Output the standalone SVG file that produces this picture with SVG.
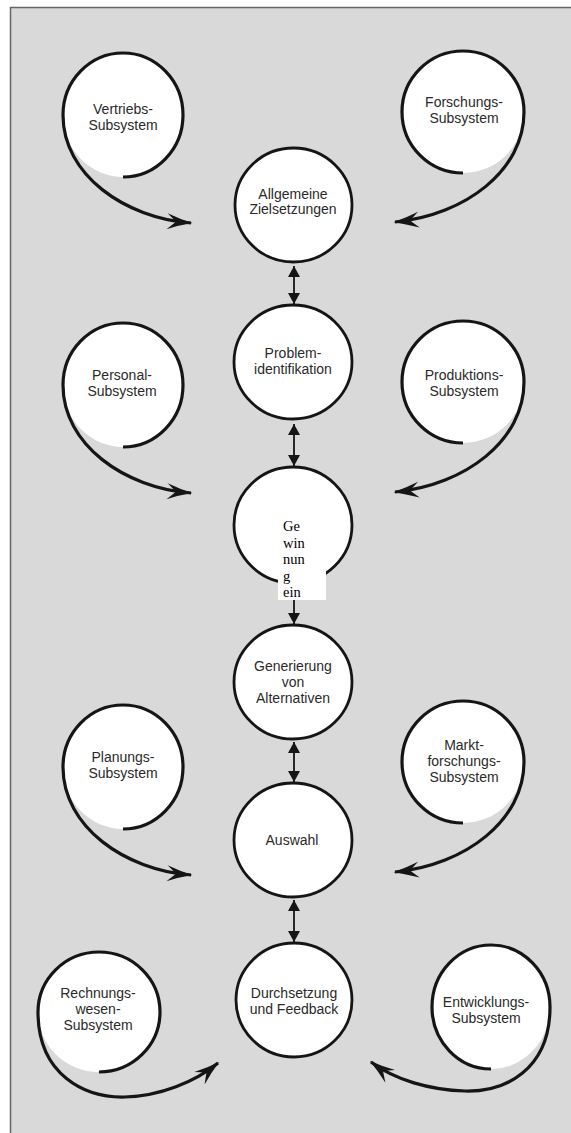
<svg xmlns="http://www.w3.org/2000/svg" width="571" height="1133" viewBox="0 0 571 1133">
<defs>
<style>
.bg{fill:#d9d9d9;stroke:#666;stroke-width:1.5}
.fill{fill:#fff;stroke:none}
.ring{fill:#fff;stroke:#151515;stroke-width:2.8}
.sp{fill:none;stroke:#151515;stroke-width:3.2}
.tail{fill:none;stroke:#151515;stroke-width:3.2}
.dbl{fill:none;stroke:#151515;stroke-width:1.8}
.t{font-family:"Liberation Sans",Arial,sans-serif;font-size:14px;fill:#2a2a2a;text-anchor:middle}
.s{font-family:"Liberation Serif","Times New Roman",serif;font-size:14.5px;fill:#000}
</style>
<marker id="barb" markerUnits="userSpaceOnUse" markerWidth="30" markerHeight="20" viewBox="-26 -10 28 20" refX="0" refY="0" orient="auto">
<path d="M1.5,0 Q-11,-3 -24,-8 L-15,0 L-24,8 Q-11,3 1.5,0 Z" fill="#151515"/>
</marker>
<marker id="tri" markerUnits="userSpaceOnUse" markerWidth="14" markerHeight="14" viewBox="0 -7 12 14" refX="11" refY="0" orient="auto-start-reverse">
<path d="M0,-6 L11,0 L0,6 Z" fill="#151515"/>
</marker>
</defs>
<rect class="bg" x="10.5" y="7.5" width="580" height="1140"/>

<g id="vertrieb">
<ellipse class="fill" cx="123" cy="115" rx="60" ry="62"/>
<path class="sp" d="M123,177 A60,62 0 1 0 63,115"/>
<text class="t" x="123" y="114">Vertriebs-</text>
<text class="t" x="123" y="130">Subsystem</text>
</g>
<g id="forschung">
<ellipse class="fill" cx="463" cy="112" rx="61" ry="61"/>
<path class="sp" d="M463,173 A61,61 0 1 1 524,112"/>
<text class="t" x="464" y="107">Forschungs-</text>
<text class="t" x="464" y="123">Subsystem</text>
</g>
<g id="personal">
<ellipse class="fill" cx="123" cy="385" rx="60" ry="62"/>
<path class="sp" d="M123,447 A60,62 0 1 0 63,385"/>
<text class="t" x="122" y="380">Personal-</text>
<text class="t" x="122" y="396">Subsystem</text>
</g>
<g id="produktion">
<ellipse class="fill" cx="463" cy="382" rx="61" ry="61"/>
<path class="sp" d="M463,443 A61,61 0 1 1 524,382"/>
<text class="t" x="464" y="380">Produktions-</text>
<text class="t" x="464" y="396">Subsystem</text>
</g>
<g id="planung">
<ellipse class="fill" cx="123" cy="767" rx="60" ry="62"/>
<path class="sp" d="M123,829 A60,62 0 1 0 63,767"/>
<text class="t" x="123" y="762">Planungs-</text>
<text class="t" x="123" y="778">Subsystem</text>
</g>
<g id="markt">
<ellipse class="fill" cx="463" cy="762" rx="61" ry="61"/>
<path class="sp" d="M463,823 A61,61 0 1 1 524,762"/>
<text class="t" x="464" y="750">Markt-</text>
<text class="t" x="464" y="766">forschungs-</text>
<text class="t" x="464" y="782">Subsystem</text>
</g>
<g id="rechnung">
<ellipse class="fill" cx="99" cy="1012" rx="61" ry="60"/>
<path class="sp" d="M99,1072 A61,60 0 1 0 38,1012"/>
<text class="t" x="98" y="998">Rechnungs-</text>
<text class="t" x="98" y="1014">wesen-</text>
<text class="t" x="98" y="1030">Subsystem</text>
</g>
<g id="entwicklung">
<ellipse class="fill" cx="491" cy="1007" rx="59" ry="62"/>
<path class="sp" d="M491,1069 A59,62 0 1 1 550,1007"/>
<text class="t" x="486" y="1007">Entwicklungs-</text>
<text class="t" x="486" y="1023">Subsystem</text>
</g>

<g id="ziele">
<ellipse class="ring" cx="293.5" cy="205" rx="58.5" ry="57"/>
<text class="t" x="293" y="199">Allgemeine</text>
<text class="t" x="293" y="214">Zielsetzungen</text>
</g>
<g id="problem">
<ellipse class="ring" cx="293" cy="362" rx="59" ry="57"/>
<text class="t" x="293" y="358">Problem-</text>
<text class="t" x="293" y="374">identifikation</text>
</g>
<g id="gewinnung">
<ellipse class="ring" cx="293" cy="525" rx="59" ry="58"/>
<rect x="278" y="513" width="48" height="87" fill="#fff"/>
<text class="s" x="283" y="531">Ge</text>
<text class="s" x="283" y="547.5">win</text>
<text class="s" x="283" y="564">nun</text>
<text class="s" x="283" y="580.5">g</text>
<text class="s" x="283" y="597">ein</text>
</g>
<g id="generierung">
<ellipse class="ring" cx="293" cy="682" rx="59" ry="57"/>
<text class="t" x="293" y="671">Generierung</text>
<text class="t" x="293" y="687">von</text>
<text class="t" x="293" y="703">Alternativen</text>
</g>
<g id="auswahl">
<ellipse class="ring" cx="293" cy="840" rx="59" ry="57"/>
<text class="t" x="292" y="845">Auswahl</text>
</g>
<g id="durchsetzung">
<ellipse class="ring" cx="294" cy="1000" rx="58" ry="57"/>
<text class="t" x="294" y="998">Durchsetzung</text>
<text class="t" x="294" y="1014">und Feedback</text>
</g>

<g id="connectors">
<path class="tail" marker-end="url(#barb)" d="M63,115 C63,175 125,218 191,223"/>
<path class="tail" marker-end="url(#barb)" d="M524,112 C524,170 466,215 395,222"/>
<path class="tail" marker-end="url(#barb)" d="M63,385 C63,445 125,488 191,493"/>
<path class="tail" marker-end="url(#barb)" d="M524,382 C524,440 466,485 395,492"/>
<path class="tail" marker-end="url(#barb)" d="M63,767 C63,827 125,870 191,875"/>
<path class="tail" marker-end="url(#barb)" d="M524,762 C524,820 466,865 395,872"/>
<path class="tail" marker-end="url(#barb)" d="M38,1012 C38,1075 85,1098 125,1097 C160,1096 195,1082 218,1063"/>
<path class="tail" marker-end="url(#barb)" d="M550,1007 C550,1070 505,1092 465,1091 C430,1090 395,1080 371,1062"/>
<path class="dbl" marker-start="url(#tri)" marker-end="url(#tri)" d="M294,266 L294,304"/>
<path class="dbl" marker-start="url(#tri)" marker-end="url(#tri)" d="M294,424 L294,466"/>
<path class="dbl" marker-end="url(#tri)" d="M294,600 L294,624"/>
<path class="dbl" marker-start="url(#tri)" marker-end="url(#tri)" d="M294,742 L294,782"/>
<path class="dbl" marker-start="url(#tri)" marker-end="url(#tri)" d="M294,900 L294,942"/>
</g>
</svg>
